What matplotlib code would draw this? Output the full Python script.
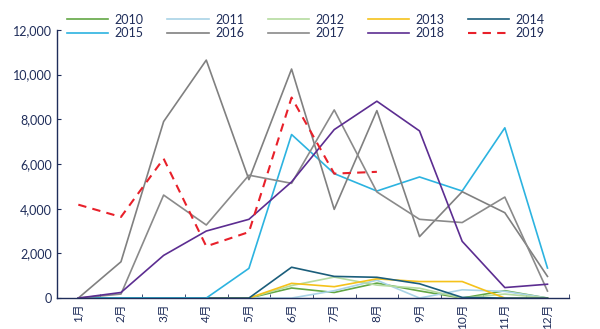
import matplotlib
matplotlib.use("Agg")
import matplotlib.pyplot as plt
from matplotlib.ticker import FuncFormatter

plt.rcParams['font.family'] = ['Lato', 'Noto Sans CJK SC', 'DejaVu Sans']

months = ["1月", "2月", "3月", "4月", "5月", "6月", "7月", "8月", "9月", "10月", "11月", "12月"]

# values
y2010 = [0, 0, 0, 0, 0, 450, 250, 670, 320, 0, 330, 0]
y2011 = [0, 0, 0, 0, 0, 0, 330, 800, 0, 370, 300, 0]
y2012 = [0, 0, 0, 0, 0, 560, 940, 580, 440, 0, 180, 0]
y2013 = [0, 0, 0, 0, 0, 660, 510, 860, 740, 740, 0, 0]
y2014 = [0, 0, 0, 0, 0, 1380, 970, 930, 640, 30, 0, 0]
y2015 = [0, 0, 0, 0, 1330, 7320, 5570, 4790, 5420, 4790, 7620, 1345]
y2016 = [0, 1625, 7900, 10650, 5300, 10250, 3970, 8390, 2750, 4760, 3820, 970]
y2017 = [0, 180, 4610, 3270, 5500, 5135, 8420, 4750, 3525, 3380, 4520, 315]
y2018 = [0, 250, 1910, 3000, 3525, 5200, 7540, 8810, 7480, 2540, 470, 620]
y2019 = [4180, 3630, 6240, 2315, 2955, 8975, 5570, 5650]

navy = "#1f2d5a"
x = list(range(len(months)))

fig, ax = plt.subplots(figsize=(6, 3.29), dpi=100)
fig.subplots_adjust(left=0.095, right=0.948, bottom=0.094, top=0.909)

lw = 1.2
ax.plot(x, y2010, color="#62a744", lw=lw, label="2010")
ax.plot(x, y2011, color="#a9d3e6", lw=lw, label="2011")
ax.plot(x, y2012, color="#b5dba0", lw=lw, label="2012")
ax.plot(x, y2013, color="#f5c21b", lw=lw, label="2013")
ax.plot(x, y2014, color="#1b5e7b", lw=lw, label="2014")
ax.plot(x, y2015, color="#2cb3e0", lw=lw, label="2015")
ax.plot(x, y2016, color="#808080", lw=lw, label="2016")
ax.plot(x, y2017, color="#8a8a8a", lw=lw, label="2017")
ax.plot(x, y2018, color="#5c2d91", lw=lw, label="2018")
ax.plot(x[:len(y2019)], y2019, color="#e8202a", lw=1.5, ls=(0, (4, 3)), label="2019")

ax.set_xlim(-0.5, 11.5)
ax.set_ylim(0, 12000)
ax.set_yticks(range(0, 12001, 2000))
ax.yaxis.set_major_formatter(FuncFormatter(lambda v, p: "{:,.0f}".format(v)))

ax.set_xticks(x)
ax.set_xticklabels(months, rotation=90)
ax.set_xticks([i + 0.5 for i in x], minor=True)
ax.tick_params(axis="x", which="major", length=0, pad=4, labelsize=8.5, labelcolor=navy)
ax.tick_params(axis="x", which="minor", direction="in", length=3, color=navy)
ax.tick_params(axis="y", direction="in", length=3, color=navy, labelsize=9, labelcolor=navy)

for s in ["top", "right"]:
    ax.spines[s].set_visible(False)
for s in ["left", "bottom"]:
    ax.spines[s].set_color(navy)
    ax.spines[s].set_linewidth(1.0)

# legend filled row by row (2 rows x 5 columns)
h, l = ax.get_legend_handles_labels()
order = [0, 5, 1, 6, 2, 7, 3, 8, 4, 9]
leg = fig.legend([h[i] for i in order], [l[i] for i in order],
                 loc="upper center", bbox_to_anchor=(0.51, 0.985), ncol=5, frameon=False,
                 fontsize=9, handlelength=3.3, handletextpad=0.5, columnspacing=1.9,
                 labelspacing=0.1, borderaxespad=0.3)
for t in leg.get_texts():
    t.set_color(navy)

fig.savefig("out.png", dpi=100)
